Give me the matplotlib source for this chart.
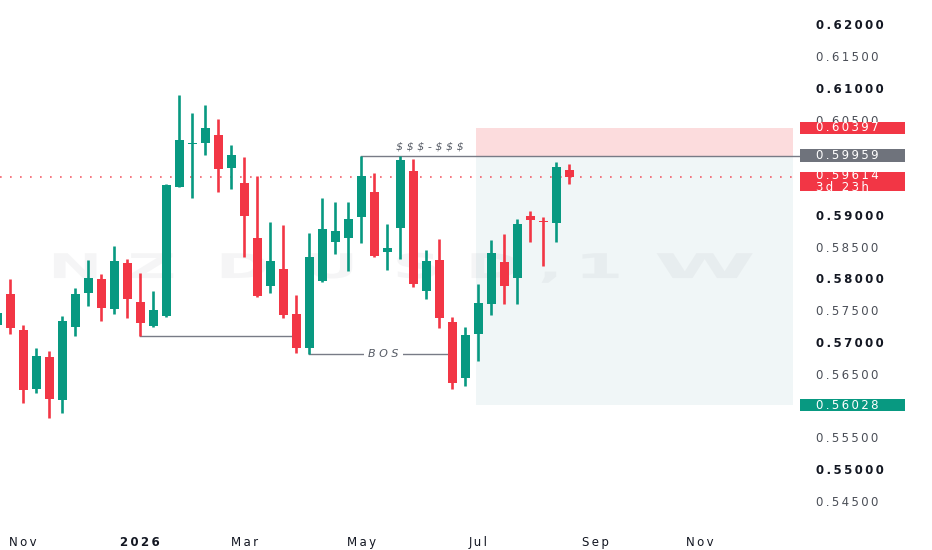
import matplotlib
matplotlib.use("Agg")
import matplotlib.pyplot as plt
from matplotlib.patches import Rectangle, PathPatch
from matplotlib.textpath import TextPath
from matplotlib.font_manager import FontProperties
import matplotlib.transforms as mtransforms

# ---------------- data ----------------
weeks = list(range(-1, 44))  # week index, 0 = week of 27 Oct 2025
opens = [0.57291, 0.57780, 0.57213, 0.56283, 0.56792, 0.56106, 0.57265, 0.57791, 0.58011, 0.57539,
         0.58273, 0.57658, 0.57276, 0.57433, 0.59469, 0.60142, 0.60162, 0.60283, 0.59769, 0.59523,
         0.58666, 0.57906, 0.58169, 0.57465, 0.56924, 0.57984, 0.58594, 0.58657, 0.58997, 0.59381,
         0.58446, 0.58814, 0.59721, 0.57831, 0.58315, 0.57334, 0.56461, 0.57150, 0.57622, 0.58279,
         0.58036, 0.59008, 0.58934, 0.58893, 0.59732]
highs = [0.57520, 0.58011, 0.57291, 0.56924, 0.56887, 0.57433, 0.57869, 0.58315, 0.58090, 0.58535,
         0.58331, 0.58105, 0.57827, 0.59512, 0.60913, 0.60625, 0.60756, 0.60531, 0.60126, 0.59942,
         0.59638, 0.58918, 0.58866, 0.57764, 0.58735, 0.59287, 0.59224, 0.59233, 0.59955, 0.59680,
         0.58877, 0.59959, 0.59901, 0.58472, 0.58641, 0.57413, 0.57265, 0.57937, 0.58630, 0.58724,
         0.58956, 0.59087, 0.58997, 0.59863, 0.59827]
lows = [0.57240, 0.57150, 0.56068, 0.56216, 0.55822, 0.55910, 0.57118, 0.57591, 0.57359, 0.57465,
        0.57406, 0.57118, 0.57265, 0.57417, 0.59465, 0.59287, 0.59969, 0.59391, 0.59433, 0.58367,
        0.57740, 0.57791, 0.57397, 0.56846, 0.56835, 0.57964, 0.58409, 0.58146, 0.58578, 0.58367,
        0.58157, 0.58326, 0.57895, 0.57701, 0.57239, 0.56279, 0.56331, 0.56729, 0.57449, 0.57622,
        0.57622, 0.58603, 0.58220, 0.58603, 0.59512]
closes = [0.57476, 0.57249, 0.56268, 0.56803, 0.56126, 0.57354, 0.57775, 0.58036, 0.57554, 0.58299,
          0.57696, 0.57318, 0.57528, 0.59496, 0.60205, 0.60157, 0.60389, 0.59748, 0.59964, 0.59008,
          0.57748, 0.58299, 0.57449, 0.56924, 0.58357, 0.58803, 0.58776, 0.58961, 0.59643, 0.58383,
          0.58499, 0.59890, 0.57937, 0.58304, 0.57397, 0.56383, 0.57134, 0.57633, 0.58430, 0.57910,
          0.58882, 0.58945, 0.58909, 0.59784, 0.59614]

month_ticks = [1, 10, 18, 27, 36, 45, 53]
month_labels = ["Nov", "2026", "Mar", "May", "Jul", "Sep", "Nov"]

price_ticks = [0.620, 0.615, 0.610, 0.605, 0.590, 0.585, 0.580, 0.575, 0.570,
               0.565, 0.555, 0.550, 0.545]

last_price = 0.59614
countdown = "3d 23h"
stop_level = 0.60397
entry_level = 0.59959
target_level = 0.56028
bos_level = 0.56835
swing_low_level = 0.57118

GREEN = "#089981"
RED = "#F23645"
GREY = "#787B86"
TXT = "#131722"
THIN = "\u2009"


def spaced(s):
    return THIN.join(s)


# ---------------- figure ----------------
W, H = 932, 550
fig = plt.figure(figsize=(W / 100, H / 100), dpi=100)
fig.patch.set_facecolor("white")
ax = fig.add_axes([0, 25 / H, 795 / W, 1 - 25 / H])
ax.set_facecolor("white")
for s in ax.spines.values():
    s.set_visible(False)

ax.set_xlim(-0.792, 60.36)
ax.set_ylim(0.54142, 0.62409)

# risk / reward boxes
ax.add_patch(Rectangle((35.8, entry_level), 60.2 - 35.8, stop_level - entry_level,
                       facecolor="#fcdcdd", edgecolor="none", zorder=1))
ax.add_patch(Rectangle((35.8, target_level), 60.2 - 35.8, entry_level - target_level,
                       facecolor="#f0f6f7", edgecolor="none", zorder=1))

# watermark "NZDUSD, 1W" (wide, faint letters)
wm_chars = ["N", "Z", "D", "U", "S", "D", ",", "1", "W"]
wm_left = [2.9, 9.0, 15.8, 22.7, 29.4, 35.0, 40.6, 43.4, 49.5]
wm_sx = [5.0, 5.2, 5.0, 5.0, 5.2, 5.2, 5.0, 5.4, 7.1]
fp = FontProperties(family="DejaVu Sans", weight="bold")
for ch, xl, sx in zip(wm_chars, wm_left, wm_sx):
    tp = TextPath((0, 0), ch, size=1, prop=fp)
    trans = mtransforms.Affine2D().scale(sx, 0.00537).translate(xl, 0.58031) + ax.transData
    ax.add_patch(PathPatch(tp, transform=trans, facecolor="#9598a1", alpha=0.09,
                           edgecolor="none", zorder=1.5))

# current price dotted line
ax.axhline(last_price, color=RED, lw=1.2, ls=(0, (1, 5)), alpha=0.8, zorder=2)

# structure lines
ax.plot([10, 21.6], [swing_low_level, swing_low_level], color=GREY, lw=1, zorder=2)
ax.plot([23, 33.6], [bos_level, bos_level], color=GREY, lw=1, zorder=2)
ax.text(28.7, bos_level, "B O S", fontsize=8, style="italic", color="#555a64",
        ha="center", va="center", zorder=3,
        bbox=dict(facecolor="white", edgecolor="none", pad=3))
ax.plot([27, 60.8], [entry_level, entry_level], color=GREY, lw=1, zorder=2, clip_on=False)
ax.text(32.3, 0.60095, r"\$ \$ \$ - \$ \$ \$", fontsize=8, style="italic", color="#555a64",
        ha="center", va="center", zorder=3)

# candles
for x, o, h, l, c in zip(weeks, opens, highs, lows, closes):
    col = GREEN if c >= o else RED
    ax.plot([x, x], [l, h], color=col, lw=1.9, solid_capstyle="butt", zorder=4)
    body = max(abs(c - o), 0.00006)
    ax.bar(x, body, bottom=min(o, c), width=0.72, color=col, edgecolor="none", zorder=5)

ax.set_xticks(month_ticks)
ax.set_xticklabels([spaced(m) for m in month_labels])
ax.tick_params(axis="x", length=0, pad=8, labelsize=8.5, labelcolor=TXT)
for lab, m in zip(ax.get_xticklabels(), month_labels):
    if m == "2026":
        lab.set_fontweight("bold")
ax.set_yticks([])

# right price scale
tr = mtransforms.blended_transform_factory(ax.transAxes, ax.transData)
for p in price_ticks:
    major = abs(round(p * 100) - p * 100) < 1e-6
    ax.text(1.026, p, spaced(f"{p:.5f}"), transform=tr, fontsize=8.5,
            color=TXT if major else "#4a4e57",
            fontweight="bold" if major else "normal", ha="left", va="center", clip_on=False,
            zorder=6)


def price_label(text, color, yc, height=0.00195):
    ax.add_patch(Rectangle((1.006, yc - height / 2), 0.132, height, transform=tr,
                           facecolor=color, edgecolor="none", clip_on=False, zorder=7))
    ax.text(1.026, yc, text, transform=tr, fontsize=8.5, color="white", ha="left",
            va="center", clip_on=False, zorder=8, linespacing=0.95)


price_label(spaced(f"{stop_level:.5f}"), RED, stop_level)
price_label(spaced(f"{entry_level:.5f}"), "#6f737c", entry_level)
price_label(spaced(f"{last_price:.5f}") + "\n" + spaced(countdown), RED, 0.59551, height=0.0030)
price_label(spaced(f"{target_level:.5f}"), GREEN, target_level)

fig.savefig("out.png", dpi=100, facecolor="white")
